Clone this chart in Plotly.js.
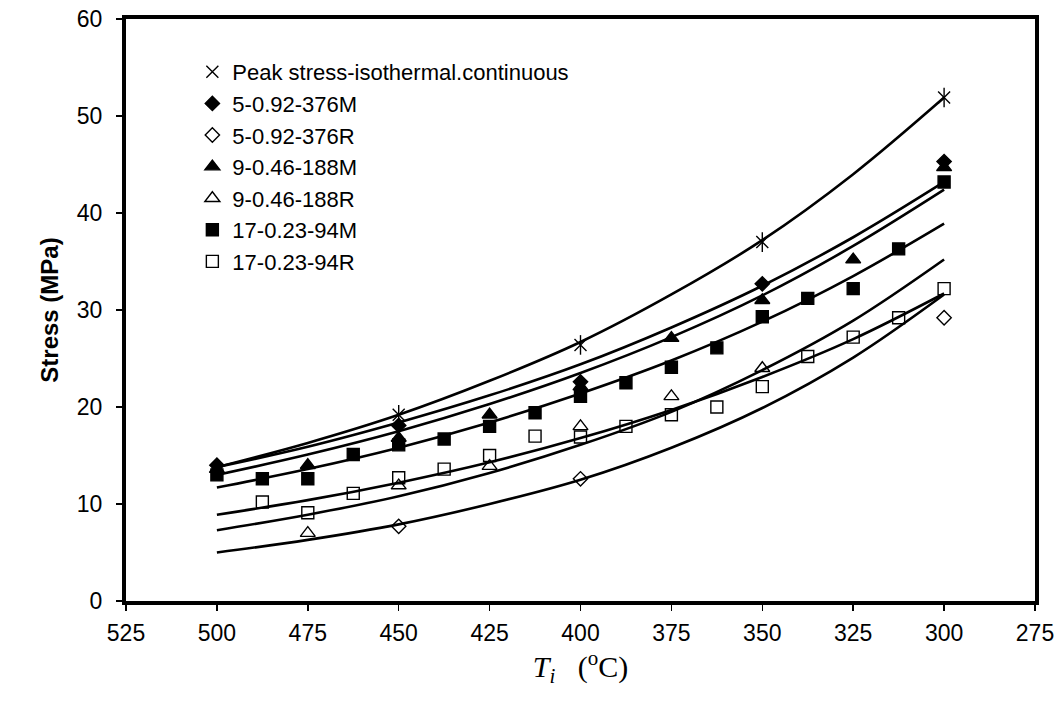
<!DOCTYPE html>
<html>
<head>
<meta charset="utf-8">
<script src="https://cdn.plot.ly/plotly-3.0.1.min.js"></script>
<style>
  html, body { margin: 0; padding: 0; background: #fff; }
  #chart { width: 1063px; height: 713px; }
</style>
</head>
<body>
<div id="chart"></div>
<script>
// Measured stresses (MPa) against initial temperature T_i (°C)
const peakT = [450, 400, 350, 300];
const peakS = [19.2, 26.4, 37.0, 51.9];

const m5T = [500, 450, 400, 350, 300];
const m5S = [14.0, 18.1, 22.6, 32.7, 45.3];

const r5T = [450, 400, 300];
const r5S = [7.7, 12.6, 29.2];

const m9T = [500, 475, 450, 425, 400, 375, 350, 325, 300];
const m9S = [13.6, 14.0, 16.8, 19.2, 22.1, 27.1, 31.0, 35.2, 44.7];

const r9T = [475, 450, 425, 400, 375, 350];
const r9S = [7.0, 11.9, 13.9, 18.0, 21.1, 24.0];

const m17T = [500, 487.5, 475, 462.5, 450, 437.5, 425, 412.5, 400, 387.5, 375, 362.5, 350, 337.5, 325, 312.5, 300];
const m17S = [13.0, 12.6, 12.6, 15.1, 16.1, 16.7, 18.0, 19.4, 21.1, 22.5, 24.1, 26.1, 29.3, 31.2, 32.2, 36.3, 43.2];

const r17T = [487.5, 475, 462.5, 450, 437.5, 425, 412.5, 400, 387.5, 375, 362.5, 350, 337.5, 325, 312.5, 300];
const r17S = [10.2, 9.1, 11.1, 12.7, 13.6, 15.0, 17.0, 16.9, 18.0, 19.2, 20.0, 22.1, 25.2, 27.2, 29.2, 32.2];

// Fitted curves, read at every 25 °C from 500 down to 300
const fitT = [500, 475, 450, 425, 400, 375, 350, 325, 300];
const fitPeak = [13.8, 16.3, 19.2, 22.7, 26.7, 31.6, 37.2, 44.0, 51.9];
const fitM5   = [13.8, 15.9, 18.4, 21.2, 24.4, 28.2, 32.5, 37.5, 43.2];
const fitM9   = [13.0, 15.1, 17.5, 20.3, 23.5, 27.2, 31.5, 36.6, 42.4];
const fitM17  = [11.7, 13.6, 15.8, 18.4, 21.4, 24.8, 28.8, 33.5, 38.9];
const fitR17  = [8.9, 10.4, 12.2, 14.3, 16.8, 19.7, 23.1, 27.0, 31.7];
const fitR9   = [7.3, 8.9, 10.8, 13.2, 16.1, 19.5, 23.8, 28.9, 35.2];
const fitR5   = [5.0, 6.3, 7.9, 10.0, 12.5, 15.8, 19.9, 25.1, 31.6];

const legendNames = [
  'Peak stress-isothermal.continuous',
  '5-0.92-376M',
  '5-0.92-376R',
  '9-0.46-188M',
  '9-0.46-188R',
  '17-0.23-94M',
  '17-0.23-94R'
];

const fitLine = (y) => ({
  x: fitT, y: y, mode: 'lines', type: 'scatter',
  line: { color: '#000', width: 2.6, shape: 'spline', smoothing: 1 },
  showlegend: false, hoverinfo: 'skip'
});

const pts = (x, y, name, symbol, size, group, extra) => Object.assign({
  x: x, y: y, name: name, mode: 'markers', type: 'scatter',
  legendgroup: group,
  marker: { symbol: symbol, size: size, color: '#000',
            line: { color: '#000', width: 1.4 } }
}, extra || {});

const traces = [
  fitLine(fitPeak), fitLine(fitM5), fitLine(fitM9), fitLine(fitM17),
  fitLine(fitR17), fitLine(fitR9), fitLine(fitR5),
  pts(peakT, peakS, legendNames[0], 'x-thin-open', 12, 'g1'),
  pts(peakT, peakS, legendNames[0], 'line-ns-open', 14, 'g1', { showlegend: false }),
  pts(m5T, m5S, legendNames[1], 'diamond', 11, 'g2'),
  pts(r5T, r5S, legendNames[2], 'diamond-open', 11, 'g3'),
  pts(m9T, m9S, legendNames[3], 'triangle-up', 13, 'g4'),
  pts(r9T, r9S, legendNames[4], 'triangle-up-open', 13, 'g5'),
  pts(m17T, m17S, legendNames[5], 'square', 12, 'g6'),
  pts(r17T, r17S, legendNames[6], 'square-open', 12, 'g7')
];

const axisFont = { family: 'Liberation Sans, Arial, sans-serif', size: 23, color: '#000' };

const layout = {
  width: 1063, height: 713,
  margin: { l: 126, r: 28, t: 19, b: 112 },
  paper_bgcolor: '#fff', plot_bgcolor: '#fff',
  showlegend: true,
  legend: {
    x: 0.073, y: 0.945, xanchor: 'left', yanchor: 'top',
    bgcolor: 'rgba(0,0,0,0)', borderwidth: 0,
    font: { family: 'Liberation Sans, Arial, sans-serif', size: 22, color: '#000' },
    traceorder: 'grouped', tracegroupgap: 0, itemsizing: 'trace'
  },
  xaxis: {
    range: [525, 275], tick0: 275, dtick: 25,
    showline: true, linewidth: 4, linecolor: '#000', mirror: true,
    ticks: 'outside', ticklen: 6, tickwidth: 1.5, tickcolor: '#000',
    ticklabelstandoff: 2,
    showgrid: false, zeroline: false,
    tickfont: axisFont,
    title: {
      text: '<i>T</i><sub><i>i</i></sub>   (<sup>o</sup>C)',
      font: { family: 'Liberation Serif, Times New Roman, serif', size: 30, color: '#000' },
      standoff: 8
    }
  },
  yaxis: {
    range: [0, 60], dtick: 10,
    showline: true, linewidth: 4, linecolor: '#000', mirror: true,
    ticks: 'outside', ticklen: 6, tickwidth: 1.5, tickcolor: '#000',
    ticklabelstandoff: 9,
    showgrid: false, zeroline: false,
    tickfont: axisFont,
    title: {
      text: '<b>Stress (MPa)</b>',
      font: { family: 'Liberation Sans, Arial, sans-serif', size: 24, color: '#000' },
      standoff: 12
    }
  }
};

Plotly.newPlot('chart', traces, layout, { displayModeBar: false, staticPlot: true });
</script>
</body>
</html>
